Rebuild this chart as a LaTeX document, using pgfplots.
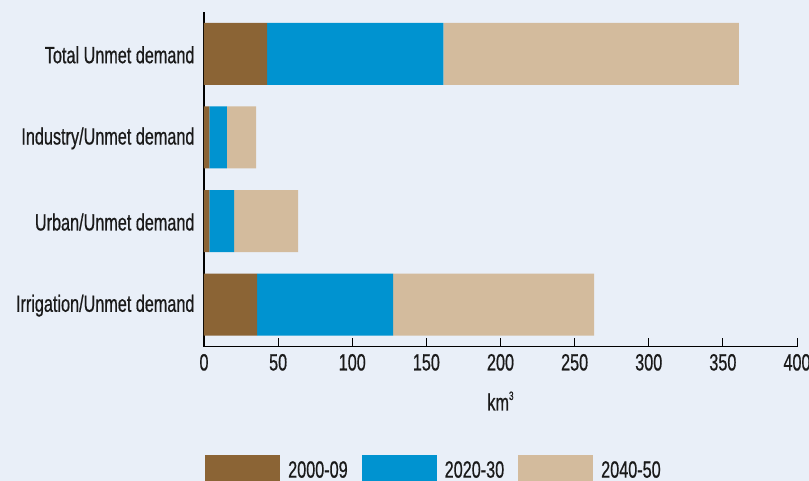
\documentclass[border=0pt]{standalone}
\usepackage{fontspec}
\setmainfont{Liberation Sans}[FakeStretch=0.69, FakeBold=0.6]
\usepackage{pgfplots}
\pgfplotsset{compat=1.18}
\definecolor{bg}{HTML}{E9EFF8}
\definecolor{cbrown}{HTML}{8B6435}
\definecolor{cblue}{HTML}{0093D0}
\definecolor{ctan}{HTML}{D3BB9D}
\definecolor{txt}{HTML}{1A1A1A}
\begin{document}
\begin{tikzpicture}
\fill[bg] (0,0) rectangle (809pt,-481pt);
\clip (0,0) rectangle (809pt,-481pt);
\begin{axis}[
  at={(204pt,-346.5pt)}, anchor=south west,
  scale only axis, width=593pt, height=334.5pt,
  xbar stacked, bar width=0.74,
  xmin=0, xmax=400, ymin=-0.5, ymax=3.5,
  axis x line*=bottom, axis y line*=left,
  axis line style={black, line width=1.1pt},
  xtick={0,50,...,400},
  ytick={0,1,2,3},
  yticklabels={Irrigation/Unmet demand, Urban/Unmet demand, Industry/Unmet demand, Total Unmet demand},
  tick align=inside, major tick length=9pt,
  xtick style={black, line width=1pt},
  ytick style={draw=none},
  /pgf/number format/assume math mode=true,
  tick label style={font=\fontsize{23.5}{28}\selectfont, text=txt},
  yticklabel style={xshift=-6pt, yshift=-1pt},
  xticklabel style={yshift=-4pt},
  xlabel={km\raisebox{0.85ex}{\fontsize{12}{12}\selectfont 3}},
  xlabel style={font=\fontsize{23.5}{28}\selectfont, text=txt, yshift=-14pt},
  legend columns=3,
  legend style={at={(rel axis cs:0,0)}, anchor=north west, yshift=-108.5pt, xshift=1pt,
    draw=none, fill=none, inner sep=0pt,
    font=\fontsize{23.5}{28}\selectfont, text=txt,
    /tikz/every odd column/.append style={column sep=6pt},
    /tikz/every even column/.append style={column sep=12pt}},
  legend image code/.code={\fill[#1] (0pt,-15pt) rectangle (75pt,15pt);},
]
\addplot[fill=cbrown, draw=none] coordinates {(35.8,0) (3.6,1) (3.6,2) (42.6,3)};
\addplot[fill=cblue, draw=none] coordinates {(91.8,0) (16.7,1) (11.9,2) (118.9,3)};
\addplot[fill=ctan, draw=none] coordinates {(135.5,0) (43.2,1) (19.6,2) (199.3,3)};
\legend{2000-09, 2020-30, 2040-50}
\end{axis}
\end{tikzpicture}
\end{document}
